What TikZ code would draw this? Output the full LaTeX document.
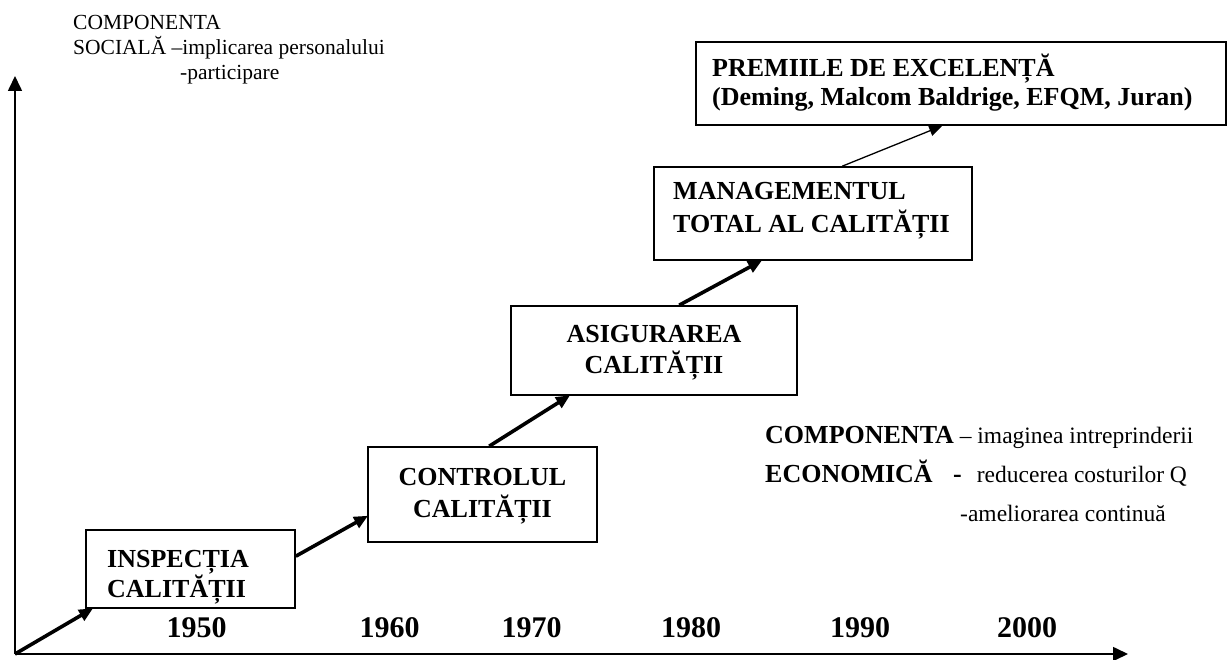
\documentclass[tikz,border=0pt]{standalone}
\usepackage{fontspec}
\setmainfont{Liberation Serif}
\usetikzlibrary{arrows.meta,calc}

\begin{document}
\begin{tikzpicture}[x=1pt,y=-1pt,
  stagebox/.style={draw=black, line width=1.6pt, inner sep=0pt, fill=white},
  stagetxt/.style={inner sep=0pt, font=\fontsize{26}{30}\selectfont\bfseries},
  yeartxt/.style={inner sep=0pt, anchor=base, font=\fontsize{30}{34}\selectfont\bfseries},
  sidetxt/.style={inner sep=0pt, anchor=base west, font=\fontsize{21.5}{25}\selectfont},
  econtxt/.style={inner sep=0pt, anchor=base west, font=\fontsize{23.5}{28}\selectfont},
  axisline/.style={line width=1.6pt, -{Triangle[length=15pt,width=14pt]}},
  thickarrow/.style={line width=3.6pt, -{Triangle[length=14pt,width=12pt]}, shorten >=-1pt},
  thinarrow/.style={line width=1.3pt, -{Triangle[length=13pt,width=11pt]}}
]
\useasboundingbox (0,0) rectangle (1230,660);

% axes
\coordinate (o) at (15,654);
\coordinate (ytip) at (15,76);
\coordinate (xtip) at (1128,654);
\draw[axisline] (o) -- (ytip);
\draw[axisline] (o) -- (xtip);

% social component note
\node[sidetxt] (s1) at (73,30) {COMPONENTA};
\node[sidetxt] (s2) at (73,55) {SOCIALĂ –implicarea personalului};
\node[sidetxt] (s3) at (180,80) {-participare};

% stage boxes
\node[stagebox, minimum width=209pt, minimum height=78pt] (b1) at (190.5,569) {};
\node[stagebox, minimum width=229pt, minimum height=95pt] (b2) at (482.5,494.5) {};
\node[stagebox, minimum width=286pt, minimum height=89pt] (b3) at (654,350.5) {};
\node[stagebox, minimum width=318pt, minimum height=93pt] (b4) at (813,213.5) {};
\node[stagebox, minimum width=530pt, minimum height=83pt] (b5) at (961,83.5) {};

% stage labels
\node[stagetxt, anchor=base west] (t1a) at (107,567) {INSPECȚIA};
\node[stagetxt, anchor=base west] (t1b) at (107,597) {CALITĂȚII};
\node[stagetxt, anchor=base] (t2a) at (482.5,485) {CONTROLUL};
\node[stagetxt, anchor=base] (t2b) at (482.5,517) {CALITĂȚII};
\node[stagetxt, anchor=base] (t3a) at (654,342) {ASIGURAREA};
\node[stagetxt, anchor=base] (t3b) at (654,373) {CALITĂȚII};
\node[stagetxt, anchor=base west] (t4a) at (673,200) {MANAGEMENTUL};
\node[stagetxt, anchor=base west] (t4b) at (673,233) {TOTAL AL CALITĂȚII};
\node[stagetxt, anchor=base west] (t5a) at (712,77) {PREMIILE DE EXCELENȚĂ};
\node[stagetxt, anchor=base west] (t5b) at (712,106) {(Deming, Malcom Baldrige, EFQM, Juran)};

% connectors between stages
\draw[thickarrow] (o) -- ($(b1.south west)+(7,0)$);
\draw[thickarrow] ($(b1.north east)+(0,27)$) -- ($(b2.north west)+(0,70)$);
\draw[thickarrow] ($(b2.north west)+(122,0)$) -- ($(b3.south west)+(59,0)$);
\draw[thickarrow] ($(b3.north west)+(169,0)$) -- ($(b4.south west)+(108,0)$);
\draw[thinarrow] ($(b4.north west)+(189,0)$) -- ($(b5.south west)+(247,0)$);

% years
\node[yeartxt] (y50) at (196.5,637) {1950};
\node[yeartxt] (y60) at (389.5,637) {1960};
\node[yeartxt] (y70) at (531.5,637) {1970};
\node[yeartxt] (y80) at (691,637) {1980};
\node[yeartxt] (y90) at (860,637) {1990};
\node[yeartxt] (y00) at (1027,637) {2000};

% economic component note
\node[econtxt] (e1) at (765,443) {{\fontsize{26}{30}\selectfont\bfseries COMPONENTA} – imaginea intreprinderii};
\node[econtxt] (e2) at (765,482) {{\fontsize{26}{30}\selectfont\bfseries ECONOMICĂ}};
\node[econtxt] (e3) at (953,482) {{\fontsize{26}{30}\selectfont\bfseries -}\hspace{15pt}reducerea costurilor Q};
\node[econtxt] (e4) at (960,521) {-ameliorarea continuă};
\end{tikzpicture}
\end{document}
